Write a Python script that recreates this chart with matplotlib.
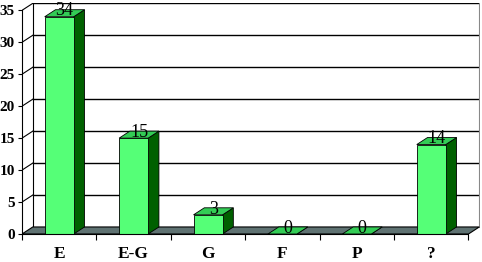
import matplotlib
matplotlib.use('Agg')
import matplotlib.pyplot as plt
from matplotlib.patches import Polygon

categories = ['E', 'E-G', 'G', 'F', 'P', '?']
counts = [34, 15, 3, 0, 0, 14]
yticks = [0, 5, 10, 15, 20, 25, 30, 35]

# fake 3d look, depth offsets in data units
dx = 0.145
dy = 1.1
w = 0.39

front_c = '#55ff77'
side_c = '#006000'
top_c = '#33cc55'
floor_c = '#5f7272'

plt.rcParams['font.family'] = ['Liberation Serif', 'DejaVu Serif']

fig = plt.figure(figsize=(4.82, 2.62), dpi=100)
ax = fig.add_axes([22/482, (262-234)/262, (480-22)/482, (234-3)/262])
n = len(categories)
ax.set_xlim(0, n + dx + 0.01)
ax.set_ylim(0, 35 + dy + 0.05)

# floor
ax.add_patch(Polygon([(0, 0), (n, 0), (n + dx, dy), (dx, dy)], closed=True,
                     facecolor=floor_c, edgecolor='black', lw=0.8, zorder=1))

# back wall grid + left wall grid
for v in yticks:
    if v == 0:
        continue
    ax.plot([dx, n + dx], [v + dy, v + dy], color='black', lw=1.0, zorder=0)
    ax.plot([0, dx], [v, v + dy], color='black', lw=0.8, zorder=0)
ax.plot([dx, dx], [dy, 35 + dy], color='black', lw=0.8, zorder=0)
ax.plot([n + dx, n + dx], [dy, 35 + dy], color='#888888', lw=0.8, zorder=0)

for i, v in enumerate(counts):
    c = i + 0.5
    x0, x1 = c - w/2, c + w/2
    ax.add_patch(Polygon([(x1, 0), (x1 + dx, dy), (x1 + dx, v + dy), (x1, v)],
                         closed=True, facecolor=side_c, edgecolor='black', lw=0.6, zorder=3))
    ax.add_patch(Polygon([(x0, v), (x1, v), (x1 + dx, v + dy), (x0 + dx, v + dy)],
                         closed=True, facecolor=top_c, edgecolor='black', lw=0.6, zorder=3))
    if v > 0:
        ax.add_patch(Polygon([(x0, 0), (x1, 0), (x1, v), (x0, v)],
                             closed=True, facecolor=front_c, edgecolor='black', lw=0.6, zorder=4))
    ax.text(c + dx/2, v + 0.2, str(v), ha='center', va='baseline',
            fontsize=13, zorder=5)

for s in ['top', 'right']:
    ax.spines[s].set_visible(False)
ax.spines['left'].set_bounds(0, 35)
ax.spines['bottom'].set_bounds(0, n)
ax.spines['left'].set_zorder(6)
ax.spines['bottom'].set_zorder(6)

ax.set_yticks(yticks)
ax.set_yticklabels([str(t) for t in yticks], fontsize=11, fontweight='bold')
ax.tick_params(axis='y', length=3, width=0.8, pad=2)

ax.set_xticks([i + 0.5 for i in range(n)])
ax.set_xticklabels(categories, fontsize=12.5, fontweight='bold')
ax.set_xticks(range(n + 1), minor=True)
ax.tick_params(axis='x', which='major', length=0, pad=9)
ax.tick_params(axis='x', which='minor', length=4, width=0.8)

fig.savefig('out.png', dpi=100)
